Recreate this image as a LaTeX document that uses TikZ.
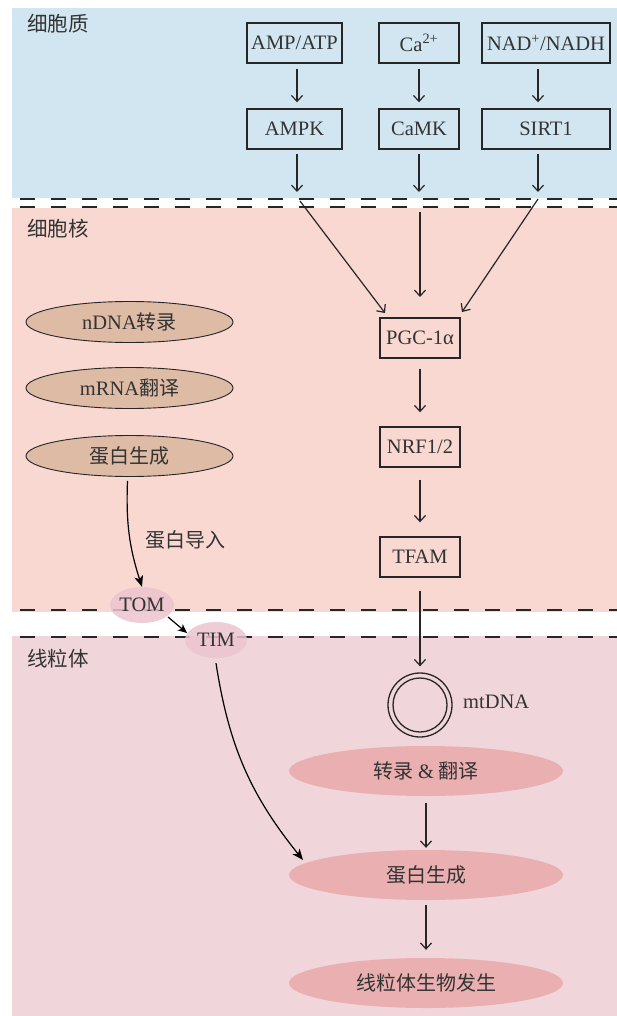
\documentclass[tikz,border=0pt]{standalone}
\usepackage{fontspec}
\setmainfont{Liberation Serif}
\newfontfamily\cjk{Noto Sans CJK SC}
\usetikzlibrary{arrows.meta,shapes.geometric,calc}
\newcommand\zh[1]{{\cjk #1}}
\definecolor{cyto}{HTML}{D2E6F1}
\definecolor{nucl}{HTML}{F8D8D0}
\definecolor{mito}{HTML}{F0D5DA}
\definecolor{tanfill}{HTML}{DEBBA5}
\definecolor{mitofill}{HTML}{EAAFB0}
\definecolor{memfill}{HTML}{ECC4CF}
\definecolor{ink}{HTML}{262626}
\definecolor{txt}{HTML}{333333}
\begin{document}
\begin{tikzpicture}[x=1pt,y=-1pt,
  lat/.style={font=\fontsize{20.5}{23}\selectfont, text=txt},
  zhf/.style={font=\fontsize{20}{24}\selectfont, text=txt},
  pbox/.style={draw=ink, line width=1.4pt, minimum height=40pt, inner sep=0pt, lat},
  arr/.style={draw=ink, line width=1.2pt, -{Straight Barb[length=6pt,width=11pt,line width=1.2pt]}},
  carr/.style={draw=black, line width=1.2pt, -{Stealth[length=11pt,width=9pt,inset=3pt]}},
  memline/.style={draw=ink, line width=1.5pt, dash pattern=on 15pt off 16pt},
  tanell/.style={ellipse, draw=ink, line width=0.9pt, fill=tanfill, minimum width=207pt, minimum height=41pt, inner sep=0pt, zhf},
  mitell/.style={ellipse, fill=mitofill, minimum width=274pt, minimum height=50pt, inner sep=0pt, zhf},
  memell/.style={ellipse, fill=memfill, fill opacity=0.85, text opacity=1, minimum width=62pt, minimum height=36pt, inner sep=0pt, lat},
  region/.style={anchor=west, inner sep=0pt, font=\fontsize{20.5}{24}\selectfont, text=txt}
]
\useasboundingbox (0,0) rectangle (617,1016);
% panels
\fill[cyto] (12,8) rectangle (617,198);
\fill[nucl] (12,208) rectangle (617,612);
\fill[mito] (12,636) rectangle (617,1016);
\draw[memline] (20,199) -- (617,199);
\draw[memline] (20,207) -- (617,207);
\draw[memline] (20,610) -- (617,610);
\draw[memline] (20,637) -- (617,637);
% region labels
\node[region] (lcyto) at (27,24) {\zh{细胞质}};
\node[region] (lnucl) at (27,229) {\zh{细胞核}};
\node[region] (lmito) at (27,659) {\zh{线粒体}};
% top boxes
\node[pbox, minimum width=95pt] (ampatp) at (294.5,43) {AMP/ATP};
\node[pbox, minimum width=80pt] (ca) at (419,43) {Ca\textsuperscript{2+}};
\node[pbox, minimum width=128pt] (nad) at (546,43) {NAD\textsuperscript{+}/NADH};
\node[pbox, minimum width=95pt] (ampk) at (294.5,129) {AMPK};
\node[pbox, minimum width=80pt] (camk) at (419,129) {CaMK};
\node[pbox, minimum width=128pt] (sirt) at (546,129) {SIRT1};
% nucleus boxes
\node[pbox, minimum width=80pt] (pgc) at (420,338) {PGC-1α};
\node[pbox, minimum width=80pt] (nrf) at (420,447) {NRF1/2};
\node[pbox, minimum width=80pt] (tfam) at (420,557) {TFAM};
% column coordinates
\coordinate (c1) at (297,0);
\coordinate (c2) at (419,0);
\coordinate (c3) at (538,0);
\coordinate (m1) at (297,192);
\coordinate (m2) at (419,192);
\coordinate (m3) at (538,192);
\coordinate (d1) at (300,201);
\coordinate (d2) at (420,212);
\coordinate (d3) at (538,199);
\coordinate (t1) at (385,313);
\coordinate (t2) at (420,297);
\coordinate (t3) at (462,312);
\draw[arr, shorten <=5pt, shorten >=6pt] (ampatp.south -| c1) -- (ampk.north -| c1);
\draw[arr, shorten <=5pt, shorten >=6pt] (ca.south -| c2) -- (camk.north -| c2);
\draw[arr, shorten <=5pt, shorten >=6pt] (nad.south -| c3) -- (sirt.north -| c3);
\draw[arr, shorten <=4pt] (ampk.south -| c1) -- (m1);
\draw[arr, shorten <=4pt] (camk.south -| c2) -- (m2);
\draw[arr, shorten <=4pt] (sirt.south -| c3) -- (m3);
\draw[arr] (d1) -- (t1);
\draw[arr] (d2) -- (t2);
\draw[arr] (d3) -- (t3);
\draw[arr, shorten <=10pt, shorten >=14pt] (pgc) -- (nrf);
\draw[arr, shorten <=12pt, shorten >=14pt] (nrf) -- (tfam);
% mtDNA
\node[circle, draw=ink, line width=1.3pt, minimum size=64pt, inner sep=0pt] (mt) at (420,705) {};
\draw[ink, line width=1.3pt] (mt.center) circle (27pt);
\node[anchor=west, inner sep=0pt, lat] (mtl) at (463,702) {mtDNA};
\draw[arr, shorten <=13pt, shorten >=6pt] (tfam) -- (mt.north);
% left ellipses
\node[tanell] (ndna) at (129.5,322) {{\fontsize{20.5}{23}\selectfont nDNA}\zh{转录}};
\node[tanell] (mrna) at (129.5,388) {{\fontsize{20.5}{23}\selectfont mRNA}\zh{翻译}};
\node[tanell] (prot) at (129.5,456) {\zh{蛋白生成}};
% TOM / TIM
\node[memell] (tom) at (142,605) {TOM};
\node[memell] (tim) at (216,640) {TIM};
\node[inner sep=0pt, zhf] (imp) at (185,540) {\zh{蛋白导入}};
\draw[carr] ($(prot.south)+(-2,4)$) to[bend right=10] (tom.north);
\draw[draw=black, line width=1.2pt, -{Stealth[length=9pt,width=8pt,inset=2.5pt]}] ($(tom.center)+(26,12)$) -- ($(tim.center)+(-29,-7)$);
% mito ellipses
\node[mitell] (tl) at (426,771) {\zh{转录} {\fontsize{20.5}{23}\selectfont\&} \zh{翻译}};
\node[mitell] (pg) at (426,875) {\zh{蛋白生成}};
\node[mitell] (bio) at (426,983) {\zh{线粒体生物发生}};
\draw[arr, shorten <=7pt, shorten >=2pt] (tl) -- (pg);
\draw[arr, shorten <=5pt, shorten >=8pt] (pg) -- (bio);
\draw[carr] ($(tim.south)+(0,5)$) to[bend right=15] ($(pg.center)+(-123,-15)$);
\end{tikzpicture}
\end{document}
